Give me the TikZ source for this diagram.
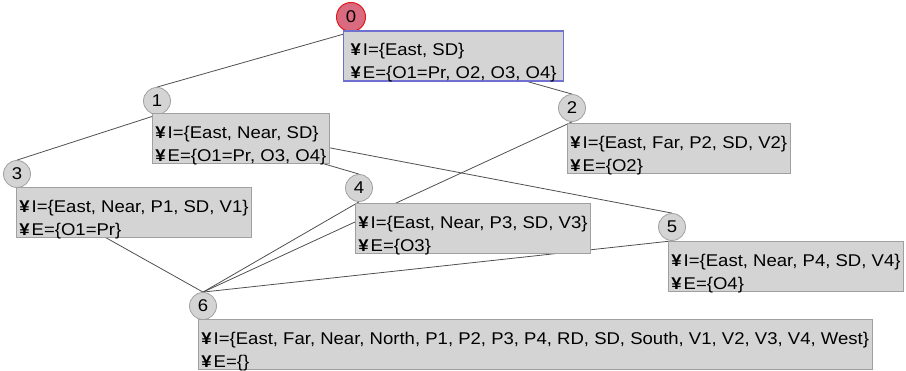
\documentclass[tikz,border=0pt]{standalone}
\usepackage{fontspec}
\setmainfont{Liberation Sans}[FakeStretch=1.09]
\usepackage{tikz}
\usetikzlibrary{positioning}
\usetikzlibrary{backgrounds}
\definecolor{boxgray}{HTML}{D4D4D4}
\definecolor{rimgray}{HTML}{A0A0A0}
\definecolor{edgegray}{HTML}{505050}
\definecolor{selblue}{HTML}{7070D0}
\definecolor{rootfill}{HTML}{DA6A80}
\definecolor{rootrim}{HTML}{E01818}
\tikzstyle{state} = [circle, minimum size=27pt, inner sep=0pt, fill=boxgray, draw=rimgray, line width=0.8pt]
\tikzstyle{rootstate} = [state, minimum size=29pt, fill=rootfill, draw=rootrim, line width=1pt]
\tikzstyle{setbox} = [rectangle, align=left, fill=boxgray, draw=rimgray, line width=0.8pt, inner xsep=3pt, inner ysep=1pt]
\tikzstyle{rootbox} = [setbox, draw=selblue, line width=1.2pt, inner xsep=7pt]
\tikzstyle{link} = [draw=edgegray, line width=0.8pt]
\newcommand{\yn}{\textbf{¥}\kern2pt}
\newcommand{\setlines}[2]{\rule{0pt}{23.3pt}\yn I=\{#1\}\\\raisebox{0pt}[\height][1.3pt]{\yn E=\{#2\}}}

\begin{document}
\begin{tikzpicture}[x=1pt, y=-1pt, font=\fontsize{17}{23.3}\selectfont]
\useasboundingbox (0,0) rectangle (906,371);
% states of the lattice
\node (0) [rootstate] at (351,17) {0};
\node (1) [state] at (157,101) {1};
\node (2) [state] at (572,108) {2};
\node (3) [state] at (17,174) {3};
\node (4) [state] at (359,188) {4};
\node (5) [state] at (672,227) {5};
\node (6) [state] at (203,306) {6};
% sets below each state
\node (b0) [rootbox, below right=-1.5pt and -8pt of 0.south] {\setlines{East, SD}{O1=Pr, O2, O3, O4}};
\node (b1) [setbox, below right=-1.5pt and -5pt of 1.south] {\setlines{East, Near, SD}{O1=Pr, O3, O4}};
\node (b2) [setbox, below right=1.5pt and -5pt of 2.south] {\setlines{East, Far, P2, SD, V2}{O2}};
\node (b3) [setbox, below right=-0.5pt and -1pt of 3.south] {\setlines{East, Near, P1, SD, V1}{O1=Pr}};
\node (b4) [setbox, below right=1.5pt and -4pt of 4.south] {\setlines{East, Near, P3, SD, V3}{O3}};
\node (b5) [setbox, below right=0.5pt and -4pt of 5.south] {\setlines{East, Near, P4, SD, V4}{O4}};
\node (b6) [setbox, below right=-0.5pt and -5pt of 6.south] {\setlines{East, Far, Near, North, P1, P2, P3, P4, RD, SD, South, V1, V2, V3, V4, West}{}};
% links, behind everything
\begin{pgfonlayer}{background}
\draw [link] (0.south) -- (1.north);
\draw [link] (0.south) -- (2.north);
\draw [link] (1.south) -- (3.north);
\draw [link] (1.south) -- (4.north);
\draw [link] (1.south) -- (5.north);
\draw [link] (2.south) -- (6.north);
\draw [link] (3.south) -- (6.north);
\draw [link] (4.south) -- (6.north);
\draw [link] (5.south) -- (6.north);
\end{pgfonlayer}
\end{tikzpicture}
\end{document}
